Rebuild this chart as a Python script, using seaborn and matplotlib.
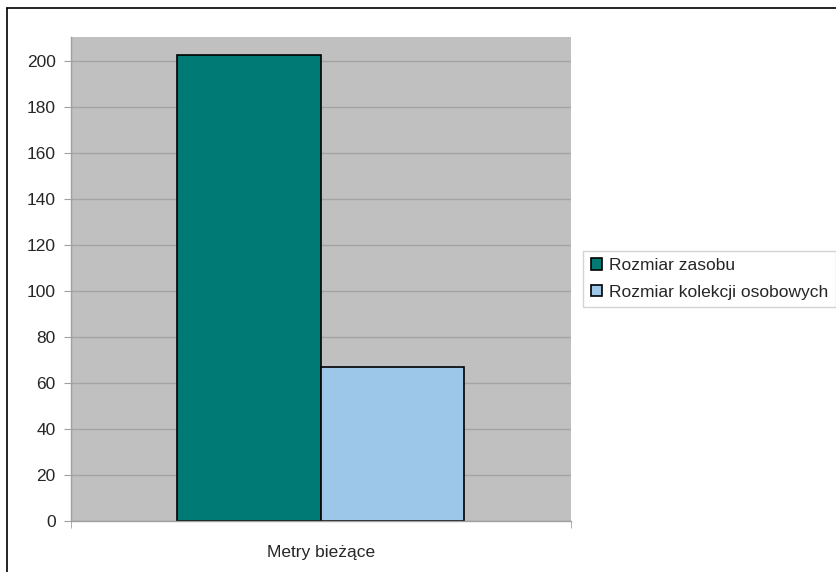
import matplotlib
matplotlib.use("Agg")
import matplotlib.pyplot as plt
import seaborn as sns
import pandas as pd

categories = ["Metry bieżące"]
series = ["Rozmiar zasobu", "Rozmiar kolekcji osobowych"]
values = [202.5, 67]
colors = ["#007A74", "#9DC7E8"]

df = pd.DataFrame({
    "kategoria": categories * len(series),
    "seria": series,
    "wartosc": values,
})

sns.set_style("white")
plt.rcParams["font.family"] = ["Liberation Sans", "DejaVu Sans"]

fig = plt.figure(figsize=(8.37, 5.72), dpi=100)
ax = fig.add_axes([0.0848, 0.0892, 0.5974, 0.8461])
ax.set_facecolor("#C0C0C0")

sns.barplot(data=df, x="kategoria", y="wartosc", hue="seria",
            palette=colors, width=0.574, gap=0, edgecolor="black",
            linewidth=1.2, ax=ax, saturation=1)

ax.set_ylim(0, 210.5)
ax.set_xlim(-0.5, 0.5)
ax.set_yticks(range(0, 201, 20))
ax.yaxis.grid(True, color="#A4A4A4", linewidth=1)
ax.set_axisbelow(True)
ax.set_xlabel("")
ax.set_ylabel("")

for s in ["top", "right"]:
    ax.spines[s].set_visible(False)
for s in ["left", "bottom"]:
    ax.spines[s].set_color("#A0A0A0")
    ax.spines[s].set_linewidth(1)

ax.tick_params(axis="y", left=True, length=5, color="#A0A0A0",
               labelsize=12.5, pad=6)
ax.tick_params(axis="x", bottom=False, labelsize=12.5, pad=14)
# znaczniki na granicach kategorii
ax.set_xticks([-0.5, 0.5], minor=True)
ax.tick_params(axis="x", which="minor", bottom=True, length=5,
               color="#A0A0A0")

handles, labels = ax.get_legend_handles_labels()
ax.legend(handles, labels, loc="center left", bbox_to_anchor=(1.024, 0.5),
          frameon=True, fancybox=False, edgecolor="#C8C8C8", fontsize=12.5,
          handlelength=0.65, handleheight=0.65, handletextpad=0.4,
          borderpad=0.45, labelspacing=0.65, borderaxespad=0)

# ramka wokol obrazka (lewa i gorna krawedz)
fig.add_artist(plt.Line2D([0.0084, 0.0084], [0, 0.986], color="black",
                          linewidth=1.2, transform=fig.transFigure))
fig.add_artist(plt.Line2D([0.0084, 1.0], [0.986, 0.986], color="black",
                          linewidth=1.2, transform=fig.transFigure))

fig.savefig("out.png", dpi=100)
